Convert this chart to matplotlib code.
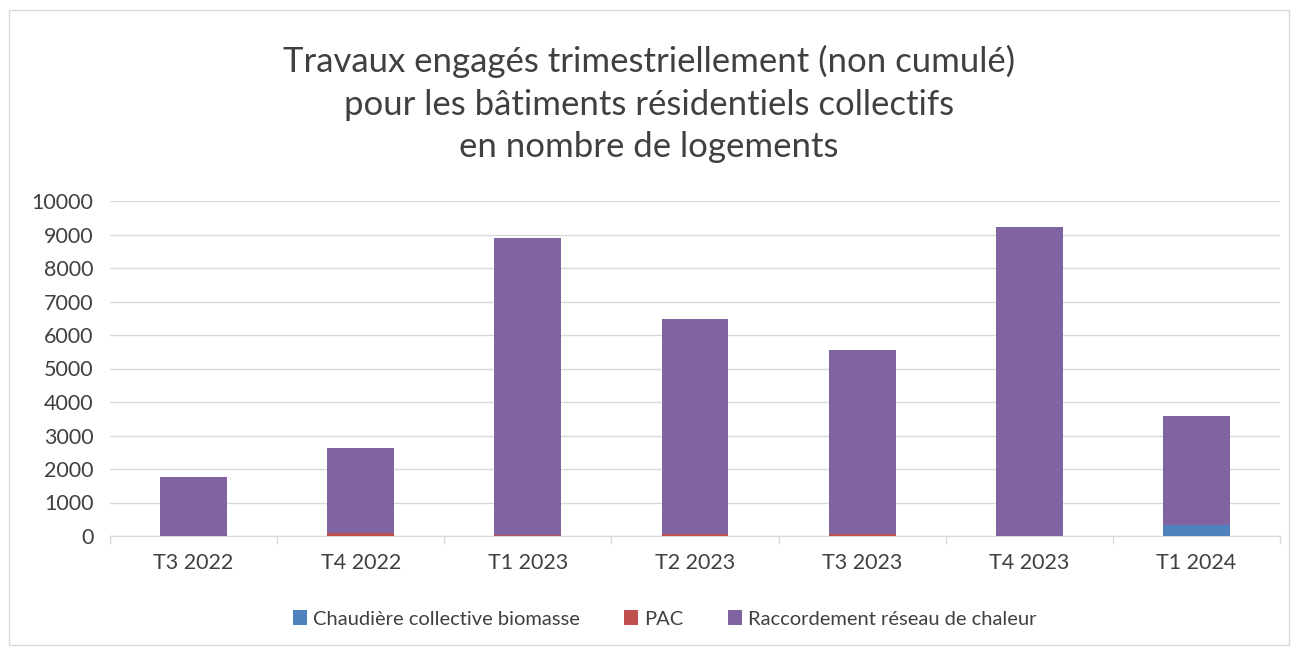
import matplotlib.pyplot as plt
import numpy as np

# Data (number of dwellings per quarter)
quarters = ["T3 2022", "T4 2022", "T1 2023", "T2 2023", "T3 2023", "T4 2023", "T1 2024"]
biomasse = [0, 0, 0, 0, 0, 0, 320]
pac = [10, 80, 30, 50, 60, 10, 0]
reseau = [1740, 2550, 8870, 6430, 5500, 9220, 3260]

labels = ["Chaudière collective biomasse", "PAC", "Raccordement réseau de chaleur"]
colors = ["#4F81BD", "#C0504D", "#8064A2"]

plt.rcParams['font.family'] = ['Lato', 'DejaVu Sans']

fig = plt.figure(figsize=(12.98, 6.48), dpi=100)
ax = fig.add_axes([110 / 1298, (648 - 536) / 648, (1280 - 110) / 1298, (536 - 201) / 648])

x = np.arange(len(quarters))
w = 0.4
bottom = np.zeros(len(quarters))
for vals, lab, col in zip([biomasse, pac, reseau], labels, colors):
    ax.bar(x, vals, w, bottom=bottom, color=col, label=lab, zorder=3)
    bottom += np.array(vals)

ax.set_ylim(0, 10000)
ax.set_xlim(-0.5, len(quarters) - 0.5)
ax.set_yticks(np.arange(0, 10001, 1000))
ax.set_xticks(x)
ax.set_xticklabels(quarters)
ax.grid(axis="y", color="#D9D9D9", linewidth=1, zorder=0)
for s in ["top", "right", "left"]:
    ax.spines[s].set_visible(False)
ax.spines["bottom"].set_color("#D9D9D9")
ax.tick_params(axis="y", length=0, labelsize=15.5, colors="#404040", pad=12)
ax.tick_params(axis="x", length=0, labelsize=15.5, colors="#404040", pad=12)
# category separator ticks below the axis
for b in np.arange(-0.5, len(quarters), 1):
    ax.plot([b, b], [0, -200], color="#D9D9D9", lw=1, clip_on=False)

fig.text(0.5, 1 - 104 / 648,
         "Travaux engagés trimestriellement (non cumulé)\npour les bâtiments résidentiels collectifs\nen nombre de logements",
         ha="center", va="center", fontsize=25, color="#404040", linespacing=1.4)

fig.legend(loc="center", bbox_to_anchor=(0.512, 1 - 619 / 648), ncol=3, frameon=False,
           fontsize=14.5, handlelength=0.7, handleheight=0.7, handletextpad=0.3,
           columnspacing=2.2, labelcolor="#404040")

# light chart border
fig.patches.append(plt.Rectangle((9 / 1298, 3 / 648), 1280 / 1298, 635 / 648, transform=fig.transFigure,
                                 fill=False, edgecolor="#D9D9D9", lw=1))

fig.savefig("out.png", dpi=100)
